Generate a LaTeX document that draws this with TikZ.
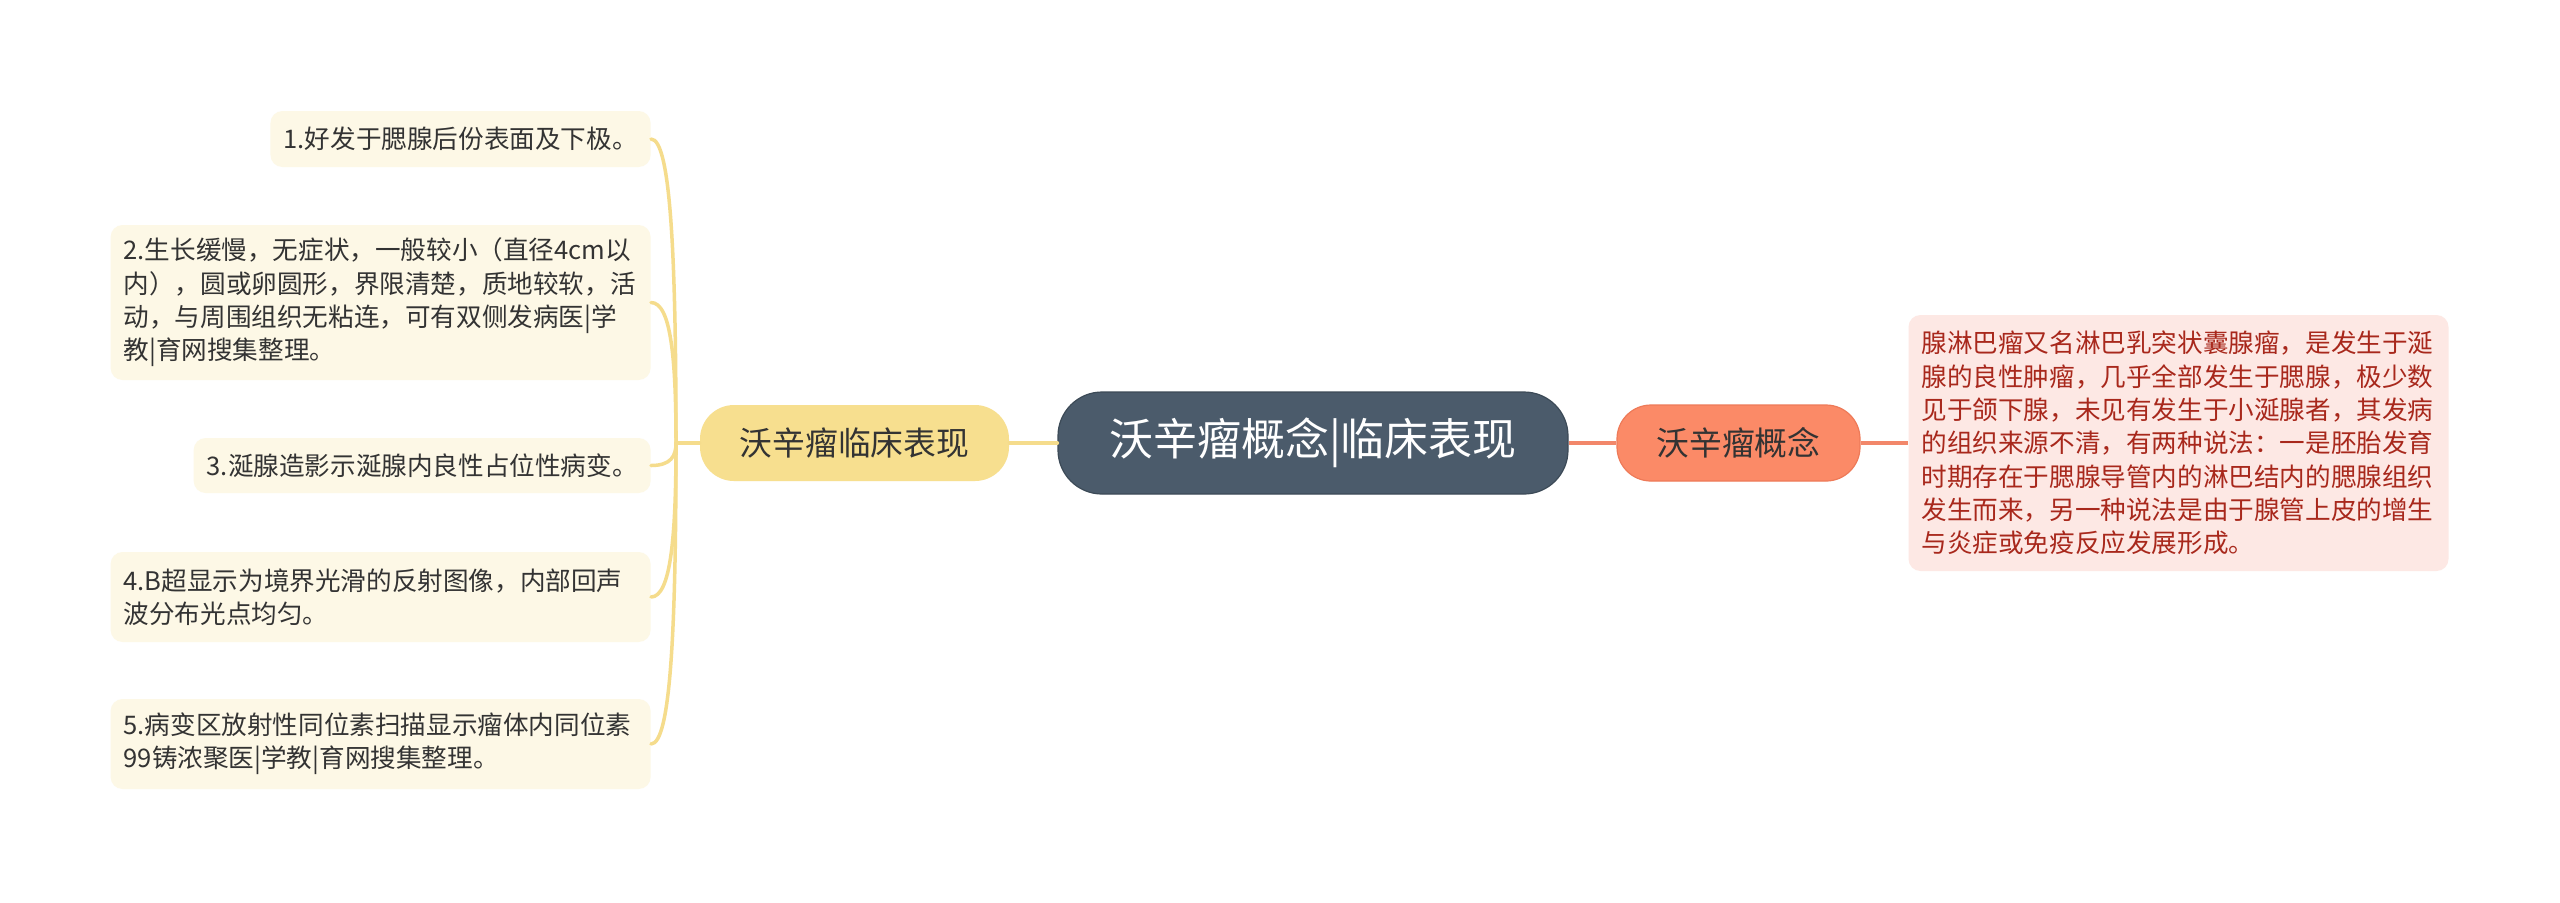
\documentclass[tikz,border=0pt]{standalone}
\usepackage{fontspec}
\setmainfont{Noto Sans CJK SC}
\definecolor{leaffill}{HTML}{FDF8E6}
\definecolor{leaftext}{HTML}{333333}
\definecolor{ybranch}{HTML}{F7DF8F}
\definecolor{yline}{HTML}{F5DC8C}
\definecolor{cfill}{HTML}{4B5B6B}
\definecolor{cdraw}{HTML}{3C4A57}
\definecolor{rbranch}{HTML}{FB8A67}
\definecolor{rbdraw}{HTML}{EE7A58}
\definecolor{rline}{HTML}{F2876A}
\definecolor{rboxfill}{HTML}{FDE8E4}
\definecolor{rboxtext}{HTML}{A8281C}
\begin{document}
\begin{tikzpicture}[x=0.5pt,y=-0.5pt,
  leaf/.style={fill=leaffill, rounded corners=6pt, inner xsep=6.5pt, inner ysep=0pt,
    font=\fontsize{12.8pt}{16.65pt}\selectfont, text=leaftext, anchor=east},
  leafm/.style={leaf, text width=257pt, align=left},
  branch/.style={rounded corners=17pt, minimum height=38pt, inner sep=0pt,
    font=\fontsize{16.4pt}{20pt}\selectfont, text=leaftext},
  yconn/.style={draw=yline, line width=1.75pt, line cap=round},
  rconn/.style={draw=rline, line width=1.6pt}
]
\fill[white] (0,0) rectangle (2560,902);
\path[use as bounding box] (0,0) rectangle (2560,902);

% central
\node[fill=cfill, draw=cdraw, line width=0.6pt, rounded corners=22pt,
  minimum width=255pt, minimum height=51pt, inner sep=0pt,
  font=\fontsize{22pt}{26pt}\selectfont, text=white] (c) at (1313,443) {沃辛瘤概念|临床表现};

% branches
\node[branch, fill=ybranch, minimum width=154.5pt] (lb) at (854.5,443) {沃辛瘤临床表现};
\node[branch, fill=rbranch, draw=rbdraw, line width=0.6pt, minimum width=121.5pt] (rb) at (1738.5,443) {沃辛瘤概念};

% right detail box
\node[fill=rboxfill, rounded corners=6pt, text width=257pt, align=left,
  inner xsep=6.5pt, inner ysep=0pt, minimum height=128pt,
  font=\fontsize{12.8pt}{16.65pt}\selectfont, text=rboxtext] (rt) at (2178.5,443)
 {腺淋巴瘤又名淋巴乳突状囊腺瘤，是发生于涎\\
  腺的良性肿瘤，几乎全部发生于腮腺，极少数\\
  见于颌下腺，未见有发生于小涎腺者，其发病\\
  的组织来源不清，有两种说法：一是胚胎发育\\
  时期存在于腮腺导管内的淋巴结内的腮腺组织\\
  发生而来，另一种说法是由于腺管上皮的增生\\
  与炎症或免疫反应发展形成。};

% leaves
\node[leaf, minimum height=28pt] (b1) at (651,139) {1.好发于腮腺后份表面及下极。};
\node[leafm, minimum height=77.5pt] (b2) at (651,302.5)
 {2.生长缓慢，无症状，一般较小（直径4cm以\\
  内），圆或卵圆形，界限清楚，质地较软，活\\
  动，与周围组织无粘连，可有双侧发病医|学\\
  教|育网搜集整理。};
\node[leaf, minimum height=27.5pt] (b3) at (651,465.5) {3.涎腺造影示涎腺内良性占位性病变。};
\node[leafm, minimum height=45pt] (b4) at (651,597)
 {4.B超显示为境界光滑的反射图像，内部回声\\
  波分布光点均匀。};
\node[leafm, minimum height=45pt] (b5) at (651,744)
 {5.病变区放射性同位素扫描显示瘤体内同位素\\
  99铸浓聚医|学教|育网搜集整理。};

% connectors
\coordinate (j) at (676,443);
\draw[yconn] (c.west) -- (lb.east);
\draw[yconn] (lb.west) -- (j);
\draw[yconn] (b1.east) .. controls +(20,0) and +(0,-182) .. (j);
\draw[yconn] (b2.east) .. controls +(20,0) and +(0,-84) .. (j);
\draw[yconn] (b3.east) .. controls +(20,0) and +(0,13) .. (j);
\draw[yconn] (b4.east) .. controls +(20,0) and +(0,92) .. (j);
\draw[yconn] (b5.east) .. controls +(20,0) and +(0,181) .. (j);
\draw[rconn] (c.east) -- (rb.west);
\draw[rconn] (rb.east) -- (rt.west);
\end{tikzpicture}
\end{document}
